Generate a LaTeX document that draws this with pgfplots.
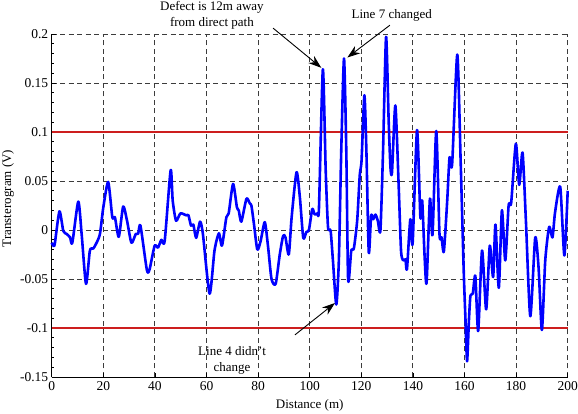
\documentclass[border=0pt]{standalone}
\usepackage{pgfplots}
\pgfplotsset{compat=1.18}
\usepackage{fontspec}
\setmainfont{Liberation Serif}
\usetikzlibrary{arrows.meta}
\definecolor{gridc}{RGB}{60,60,60}
\definecolor{redl}{RGB}{205,30,30}
\begin{document}
\begin{tikzpicture}
\begin{axis}[
  scale only axis, width=516pt, height=343pt,
  xmin=0, xmax=200, ymin=-0.15, ymax=0.2,
  axis x line*=bottom, axis y line*=left,
  axis line style={black, line width=0.8pt, -},
  xtick={0,20,...,200},
  xticklabels={0,20,40,60,80,100,120,140,160,180,200},
  ytick={-0.15,-0.1,-0.05,0,0.05,0.1,0.15,0.2},
  yticklabels={-0.15,-0.1,-0.05,0,0.05,0.1,0.15,0.2},
  minor y tick num=4,
  tick align=inside, major tick length=4pt, minor tick length=2.5pt,
  tick style={black, line width=0.6pt},
  grid=major,
  major grid style={gridc, line width=0.9pt, dash pattern=on 5pt off 3.5pt},
  tick label style={font=\fontsize{13.5}{15}\selectfont},
  xticklabel style={yshift=-1pt},
  label style={font=\fontsize{13}{15}\selectfont},
  xlabel={Distance (m)},
  ylabel={Transterogram (V)},
  x label style={at={(axis description cs:0.5,-0.064)}, anchor=north, inner sep=0pt},
  y label style={at={(axis description cs:-0.0847,0.5204)}, anchor=center, inner sep=0pt},
  clip=false,
]
\addplot[redl, line width=1.1pt, forget plot] coordinates {(0,0.1) (200,0.1)};
\addplot[redl, line width=1.1pt, forget plot] coordinates {(0,-0.1) (200,-0.1)};
\addplot[blue, line width=2.6pt, smooth, tension=0.4, line join=round] coordinates {
(0,-0.013) (0.6,-0.016) (1.2,-0.014) (3,0.019) (4.5,-0.001) (5.8,-0.004) (7.1,-0.0075) (8,-0.013)
(10.3,0.029) (11.6,-0.004) (13.3,-0.055) (14.8,-0.021) (16.1,-0.019) (17.4,-0.013) (18.7,-0.004)
(20,0.023) (21.9,0.049) (23.5,0.013) (24.5,0.013) (26,-0.007) (27.7,0.024) (29.2,0.0095)
(30.9,-0.013) (32.6,-0.004) (33.5,-0.004) (34.4,0.0045) (36.9,-0.041) (37.95,-0.040)
(39.9,-0.016) (41.2,-0.018) (42.5,-0.010) (43.8,-0.011) (46.1,0.061) (46.9,0.030)
(48.2,0.0095) (49.9,0.017) (52.1,0.015) (53,0.015) (54,0.0045) (54.9,0.0055) (56,-0.008)
(57.5,0.0085) (58.6,-0.004) (61.2,-0.065) (63.1,-0.021) (64.8,-0.0034) (66,-0.016)
(67.7,0.013) (68.6,0.017) (70.3,0.047) (71.8,0.023) (72.5,0.020) (73.5,0.0085) (75.5,0.032)
(76.8,0.027) (77.4,0.025) (78.4,0.006) (79.7,-0.020) (81,-0.011) (82.6,0.008) (83.9,-0.018)
(85.2,-0.050) (86.8,-0.055) (88.4,-0.025) (89.7,-0.006) (90.6,-0.0075) (91.9,-0.025)
(93,0.013) (94.9,0.059) (96.2,0.033) (97.5,-0.008) (98.7,-0.002) (99.7,0) (101,0.0215)
(101.9,0.016) (103,0.017) (103.6,0.023) (105.1,0.164) (106.2,0.061) (107.1,0.003)
(108.1,-0.0007) (109,-0.031) (110.3,-0.076) (111.3,-0.031) (112.2,0.078) (113.3,0.175)
(114.2,0.078) (114.9,-0.051) (116.1,-0.021) (117.1,-0.019) (118.4,0.0095) (119.4,0.056)
(120.1,0.071) (121.2,0.1375) (122,0.078) (122.9,-0.023) (123.8,0.0147) (124.6,0.011)
(125.5,0.0157) (126.4,0.0095) (127.4,-0.0007) (128.4,0.078) (129.6,0.197) (130.6,0.112)
(131.3,0.064) (131.9,0.059) (133.2,0.127) (134.5,0.044) (135.4,-0.021) (136.2,-0.031)
(137.1,-0.030) (137.7,-0.040) (139,0.011) (139.9,-0.0136) (141.6,0.102) (142.9,0.013)
(143.6,0.030) (144.5,-0.025) (145.3,-0.054) (146.6,0.032) (147.6,-0.005) (149.05,0.101)
(150.3,-0.004) (151.1,-0.0075) (152,-0.022) (153.3,0.030) (154.2,0.074) (155.2,0.067)
(157.2,0.179) (158.5,0.071) (159.7,-0.042) (160.4,-0.093) (161,-0.134) (161.7,-0.093)
(162.3,-0.067) (163.2,-0.065) (164.2,-0.047) (165.3,-0.103) (166.8,-0.021) (168.4,-0.081)
(169.8,-0.016) (171.1,-0.048) (172,0.0055) (173.3,-0.059) (174.5,0.020) (175.8,-0.031)
(177.1,0.025) (178.1,0.028) (179.9,0.088) (181.2,0.046) (182.5,0.079) (183.8,0.0095)
(185.5,-0.088) (187.4,-0.008) (188.7,-0.038) (190,-0.102) (191.3,-0.031) (192.8,0.003)
(194.1,-0.0075) (195.1,0.018) (197.1,0.044) (198.7,-0.026) (200,0.040)
};
\node[align=center, font=\fontsize{13}{16}\selectfont, inner sep=0pt] at (axis cs:62.1,0.2194) {Defect is 12m away\\from direct path};
\draw[line width=0.9pt, -{Stealth[length=13pt,width=9pt]}] (axis cs:85.8,0.206) -- (axis cs:104.5,0.1655);
\node[font=\fontsize{13}{16}\selectfont, inner sep=0pt] at (axis cs:131.8,0.219) {Line 7 changed};
\draw[line width=0.9pt, -{Stealth[length=13pt,width=9pt]}] (axis cs:131.1,0.209) -- (axis cs:114.6,0.176);
\node[align=center, font=\fontsize{13}{16}\selectfont, inner sep=0pt] at (axis cs:69.9,-0.1327) {Line 4 didn't\\change};
\draw[line width=0.9pt, -{Stealth[length=13pt,width=9pt]}] (axis cs:94.3,-0.107) -- (axis cs:109.8,-0.0745);
\end{axis}
\pgfresetboundingbox
\path[use as bounding box] (current axis.south west) ++(-51.7pt,-37pt) rectangle ++(578pt,414pt);
\end{tikzpicture}
\end{document}
